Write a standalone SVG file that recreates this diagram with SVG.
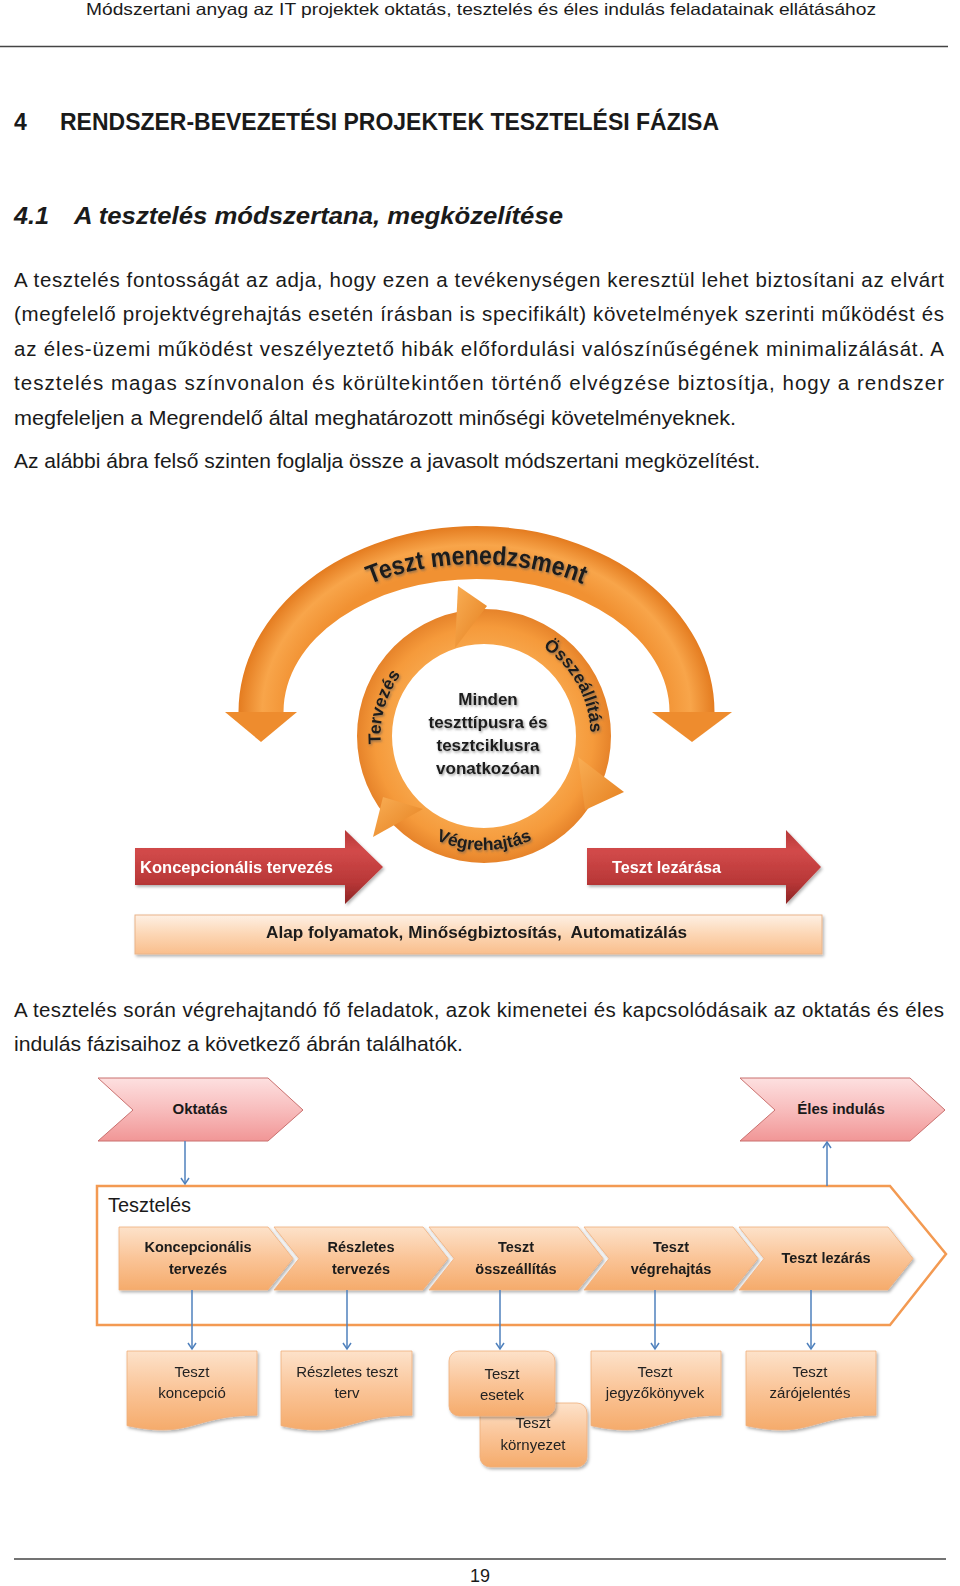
<svg xmlns="http://www.w3.org/2000/svg" width="960" height="1586" viewBox="0 0 960 1586">
<style>
.t{font-family:"Liberation Sans",Arial,sans-serif;fill:#1a1a1a}
.b{font-weight:bold}
.p{font-size:20.5px}
.c{text-anchor:middle}
.w{fill:#fff}
.lbl{font-size:14.5px;font-weight:bold;fill:#1a1a1a}
.doc{font-size:15px;fill:#222}
.ring{font-size:17.5px;font-weight:bold}
.peach{fill:url(#gPeach);stroke:#EFAE7C;stroke-width:0.8}
.conn{stroke:#4F81BD;stroke-width:1.5;fill:none}
</style>
<defs>
<linearGradient id="gPeach" x1="0" y1="0" x2="0" y2="1">
<stop offset="0" stop-color="#FDE2CA"/><stop offset="0.5" stop-color="#FAC497"/><stop offset="1" stop-color="#F5AB6B"/>
</linearGradient>
<linearGradient id="gPink" x1="0" y1="0" x2="0" y2="1">
<stop offset="0" stop-color="#FDE0E0"/><stop offset="0.5" stop-color="#F8BDBD"/><stop offset="1" stop-color="#F19696"/>
</linearGradient>
<linearGradient id="gBar" x1="0" y1="0" x2="0" y2="1">
<stop offset="0" stop-color="#FEF0E4"/><stop offset="0.5" stop-color="#FCD6B4"/><stop offset="1" stop-color="#F9BE8C"/>
</linearGradient>
<linearGradient id="gRed" gradientUnits="userSpaceOnUse" x1="0" y1="830" x2="0" y2="905">
<stop offset="0" stop-color="#B53838"/><stop offset="0.28" stop-color="#D24A4A"/><stop offset="0.7" stop-color="#B83737"/><stop offset="1" stop-color="#8A2424"/>
</linearGradient>
<radialGradient id="gArc" gradientUnits="userSpaceOnUse" cx="476.5" cy="712" r="238" gradientTransform="translate(476.5 712) scale(1 0.78) translate(-476.5 -712)">
<stop offset="0.78" stop-color="#F19132"/><stop offset="0.9" stop-color="#F8A54A"/><stop offset="1" stop-color="#E47C20"/>
</radialGradient>
<radialGradient id="gRing" gradientUnits="userSpaceOnUse" cx="484" cy="736" r="127">
<stop offset="0.72" stop-color="#F7A448"/><stop offset="0.86" stop-color="#F59A3B"/><stop offset="1" stop-color="#E6832A"/>
</radialGradient>
<linearGradient id="gHead" x1="0" y1="0" x2="1" y2="1">
<stop offset="0" stop-color="#F9AE55"/><stop offset="1" stop-color="#E5801F"/>
</linearGradient>
<filter id="sh" x="-10%" y="-10%" width="120%" height="130%">
<feDropShadow dx="1.5" dy="2" stdDeviation="1.5" flood-color="#000" flood-opacity="0.3"/>
</filter>
<filter id="tsh" x="-10%" y="-20%" width="120%" height="150%">
<feDropShadow dx="1.2" dy="1.5" stdDeviation="0.8" flood-color="#555" flood-opacity="0.6"/>
</filter>
<marker id="arr" markerUnits="userSpaceOnUse" markerWidth="12" markerHeight="12" refX="7" refY="5" orient="auto">
<path d="M1,1 L7,5 L1,9" fill="none" stroke="#4F81BD" stroke-width="1.5"/>
</marker>
<path id="pTM" d="M264.5,712 A212 148 0 0 1 688.5,712"/>
<path id="pTerv" d="M397.8,794.1 A105 105 0 0 1 441.7,641.0"/>
<path id="pOssz" d="M503.8,632 A105 105 0 0 1 583,774"/>
<path id="pVeg" d="M383.5,794 A118 118 0 0 0 584.5,794"/>
</defs>

<g id="page">
<text class="t" x="86" y="15" font-size="16.5" textLength="790" lengthAdjust="spacingAndGlyphs" fill="#222">Módszertani anyag az IT projektek oktatás, tesztelés és éles indulás feladatainak ellátásához</text>
<line x1="0" y1="46.5" x2="948" y2="46.5" stroke="#444" stroke-width="1.5"/>
<text class="t b" x="14" y="129.5" font-size="23">4</text>
<text class="t b" x="60" y="129.5" font-size="23" textLength="659" lengthAdjust="spacingAndGlyphs">RENDSZER-BEVEZETÉSI PROJEKTEK TESZTELÉSI FÁZISA</text>
<text class="t b" x="14" y="223.5" font-size="24" font-style="italic" textLength="35" lengthAdjust="spacingAndGlyphs">4.1</text>
<text class="t b" x="74" y="223.5" font-size="24" font-style="italic" textLength="489" lengthAdjust="spacingAndGlyphs">A tesztelés módszertana, megközelítése</text>
<text class="t p" x="14" y="286.5" textLength="930">A tesztelés fontosságát az adja, hogy ezen a tevékenységen keresztül lehet biztosítani az elvárt</text>
<text class="t p" x="14" y="321" textLength="930">(megfelelő projektvégrehajtás esetén írásban is specifikált) követelmények szerinti működést és</text>
<text class="t p" x="14" y="355.5" textLength="930">az éles-üzemi működést veszélyeztető hibák előfordulási valószínűségének minimalizálását. A</text>
<text class="t p" x="14" y="390" textLength="930">tesztelés magas színvonalon és körültekintően történő elvégzése biztosítja, hogy a rendszer</text>
<text class="t p" x="14" y="424.5" textLength="722" lengthAdjust="spacingAndGlyphs">megfeleljen a Megrendelő által meghatározott minőségi követelményeknek.</text>
<text class="t p" x="14" y="468" textLength="746" lengthAdjust="spacingAndGlyphs">Az alábbi ábra felső szinten foglalja össze a javasolt módszertani megközelítést.</text>
<text class="t p" x="14" y="1017" textLength="930">A tesztelés során végrehajtandó fő feladatok, azok kimenetei és kapcsolódásaik az oktatás és éles</text>
<text class="t p" x="14" y="1051" textLength="449" lengthAdjust="spacingAndGlyphs">indulás fázisaihoz a következő ábrán találhatók.</text>
<line x1="14" y1="1559" x2="946" y2="1559" stroke="#444" stroke-width="1.5"/>
<text class="t c" x="480" y="1582" font-size="18">19</text>
</g>

<!-- Diagram 1 -->
<g id="teszt-menedzsment">
<path d="M238.5,712 A238 186 0 0 1 714.5,712 L669.5,712 A193 133 0 0 0 283.5,712 Z" fill="url(#gArc)"/>
<polygon points="225,712 297,712 261,742" fill="#EE8C2E"/>
<polygon points="652,712 732,712 692,742" fill="#EE8C2E"/>
<text class="t b" font-size="26" filter="url(#tsh)"><textPath href="#pTM" startOffset="50%" text-anchor="middle" textLength="218" lengthAdjust="spacingAndGlyphs">Teszt menedzsment</textPath></text>
</g>

<g id="ciklus">
<path d="M357,736 A127 127 0 1 0 611,736 A127 127 0 1 0 357,736 Z M392,736 A92 92 0 1 1 576,736 A92 92 0 1 1 392,736 Z" fill="url(#gRing)" fill-rule="evenodd"/>
<polygon points="458,586 455,648 487,606" fill="url(#gHead)"/>
<polygon points="578,757 585,810 624,792" fill="url(#gHead)"/>
<polygon points="383,797 423,809 373,837" fill="url(#gHead)"/>
<text class="t ring" filter="url(#tsh)"><textPath href="#pTerv" startOffset="50%" text-anchor="middle">Tervezés</textPath></text>
<text class="t ring" filter="url(#tsh)"><textPath href="#pOssz" startOffset="50%" text-anchor="middle">Összeállítás</textPath></text>
<text class="t ring" filter="url(#tsh)"><textPath href="#pVeg" startOffset="50%" text-anchor="middle">Végrehajtás</textPath></text>
<g filter="url(#tsh)">
<text class="t b c" x="488" y="705" font-size="17">Minden</text>
<text class="t b c" x="488" y="728" font-size="17">teszttípusra és</text>
<text class="t b c" x="488" y="751" font-size="17">tesztciklusra</text>
<text class="t b c" x="488" y="774" font-size="17">vonatkozóan</text>
</g>
</g>

<g id="koncepcionalis-tervezes" filter="url(#sh)">
<polygon points="135,848 345,848 345,830 383,867 345,904 345,885 135,885" fill="url(#gRed)"/>
<text class="t b w" x="140" y="873" font-size="16.5" textLength="193" lengthAdjust="spacingAndGlyphs">Koncepcionális tervezés</text>
</g>
<g id="teszt-lezarasa" filter="url(#sh)">
<polygon points="587,848 786,848 786,830 821,867 786,904 786,885 587,885" fill="url(#gRed)"/>
<text class="t b w" x="612" y="873" font-size="16.5" textLength="109" lengthAdjust="spacingAndGlyphs">Teszt lezárása</text>
</g>
<g id="alap-folyamatok" filter="url(#sh)">
<rect x="135" y="915" width="687" height="39" fill="url(#gBar)" stroke="#E9B48A" stroke-width="1"/>
<text class="t b c" x="476.5" y="938" font-size="16.5" xml:space="preserve" textLength="421" lengthAdjust="spacingAndGlyphs">Alap folyamatok, Minőségbiztosítás,  Automatizálás</text>
</g>

<!-- Diagram 2 -->
<g id="oktatas">
<polygon points="98,1078 268,1078 303,1110 268,1141 98,1141 133,1110" fill="url(#gPink)" stroke="#C9706E" stroke-width="1"/>
<text class="t b c" x="200" y="1114" font-size="15">Oktatás</text>
</g>
<g id="eles-indulas">
<polygon points="740,1078 910,1078 945,1110 910,1141 740,1141 775,1110" fill="url(#gPink)" stroke="#C9706E" stroke-width="1"/>
<text class="t b c" x="841" y="1114" font-size="15">Éles indulás</text>
</g>

<g id="teszteles">
<polygon points="97,1186 890,1186 946,1254 890,1325 97,1325" fill="#fff" stroke="#F39A52" stroke-width="2.5"/>
<text class="t" x="108" y="1212" font-size="19.5" textLength="83" lengthAdjust="spacingAndGlyphs">Tesztelés</text>
</g>

<g id="f-koncepcionalis" filter="url(#sh)">
<polygon class="peach" points="119,1227 268,1227 293,1258.5 268,1290 119,1290"/>
<text class="t lbl c" x="198" y="1252">Koncepcionális</text>
<text class="t lbl c" x="198" y="1274">tervezés</text>
</g>
<g id="f-reszletes" filter="url(#sh)">
<polygon class="peach" points="274,1227 423,1227 448,1258.5 423,1290 274,1290 299,1258.5"/>
<text class="t lbl c" x="361" y="1252">Részletes</text>
<text class="t lbl c" x="361" y="1274">tervezés</text>
</g>
<g id="f-osszeallitas" filter="url(#sh)">
<polygon class="peach" points="429,1227 578,1227 603,1258.5 578,1290 429,1290 454,1258.5"/>
<text class="t lbl c" x="516" y="1252">Teszt</text>
<text class="t lbl c" x="516" y="1274">összeállítás</text>
</g>
<g id="f-vegrehajtas" filter="url(#sh)">
<polygon class="peach" points="584,1227 733,1227 758,1258.5 733,1290 584,1290 609,1258.5"/>
<text class="t lbl c" x="671" y="1252">Teszt</text>
<text class="t lbl c" x="671" y="1274">végrehajtás</text>
</g>
<g id="f-lezaras" filter="url(#sh)">
<polygon class="peach" points="739,1227 888,1227 913,1258.5 888,1290 739,1290 764,1258.5"/>
<text class="t lbl c" x="826" y="1263">Teszt lezárás</text>
</g>

<g id="d-koncepcio" filter="url(#sh)">
<path class="peach" d="M127,1351 H257 V1415.2 C192,1415.2 192,1439.6 127,1425.7 Z"/>
<text class="t doc c" x="192" y="1377">Teszt</text>
<text class="t doc c" x="192" y="1398">koncepció</text>
</g>
<g id="d-reszletes-terv" filter="url(#sh)">
<path class="peach" d="M281,1351 H412 V1415.2 C346.5,1415.2 346.5,1439.6 281,1425.7 Z"/>
<text class="t doc c" x="347" y="1377">Részletes teszt</text>
<text class="t doc c" x="347" y="1398">terv</text>
</g>
<g id="d-kornyezet" filter="url(#sh)">
<rect class="peach" x="480" y="1403" width="107" height="64" rx="10"/>
<text class="t doc c" x="533" y="1428">Teszt</text>
<text class="t doc c" x="533" y="1450">környezet</text>
</g>
<g id="d-esetek" filter="url(#sh)">
<rect class="peach" x="449" y="1351" width="106" height="65" rx="10"/>
<text class="t doc c" x="502" y="1379">Teszt</text>
<text class="t doc c" x="502" y="1400">esetek</text>
</g>
<g id="d-jegyzokonyvek" filter="url(#sh)">
<path class="peach" d="M591,1351 H721 V1415.2 C656,1415.2 656,1439.6 591,1425.7 Z"/>
<text class="t doc c" x="655" y="1377">Teszt</text>
<text class="t doc c" x="655" y="1398">jegyzőkönyvek</text>
</g>
<g id="d-zarojelentes" filter="url(#sh)">
<path class="peach" d="M746,1351 H876 V1415.2 C811,1415.2 811,1439.6 746,1425.7 Z"/>
<text class="t doc c" x="810" y="1377">Teszt</text>
<text class="t doc c" x="810" y="1398">zárójelentés</text>
</g>

<g id="connectors">
<line class="conn" x1="185" y1="1141" x2="185" y2="1184" marker-end="url(#arr)"/>
<line class="conn" x1="827" y1="1186" x2="827" y2="1142" marker-end="url(#arr)"/>
<line class="conn" x1="192" y1="1290" x2="192" y2="1349" marker-end="url(#arr)"/>
<line class="conn" x1="347" y1="1290" x2="347" y2="1349" marker-end="url(#arr)"/>
<line class="conn" x1="500" y1="1290" x2="500" y2="1349" marker-end="url(#arr)"/>
<line class="conn" x1="655" y1="1290" x2="655" y2="1349" marker-end="url(#arr)"/>
<line class="conn" x1="811" y1="1290" x2="811" y2="1349" marker-end="url(#arr)"/>
</g>
</svg>
